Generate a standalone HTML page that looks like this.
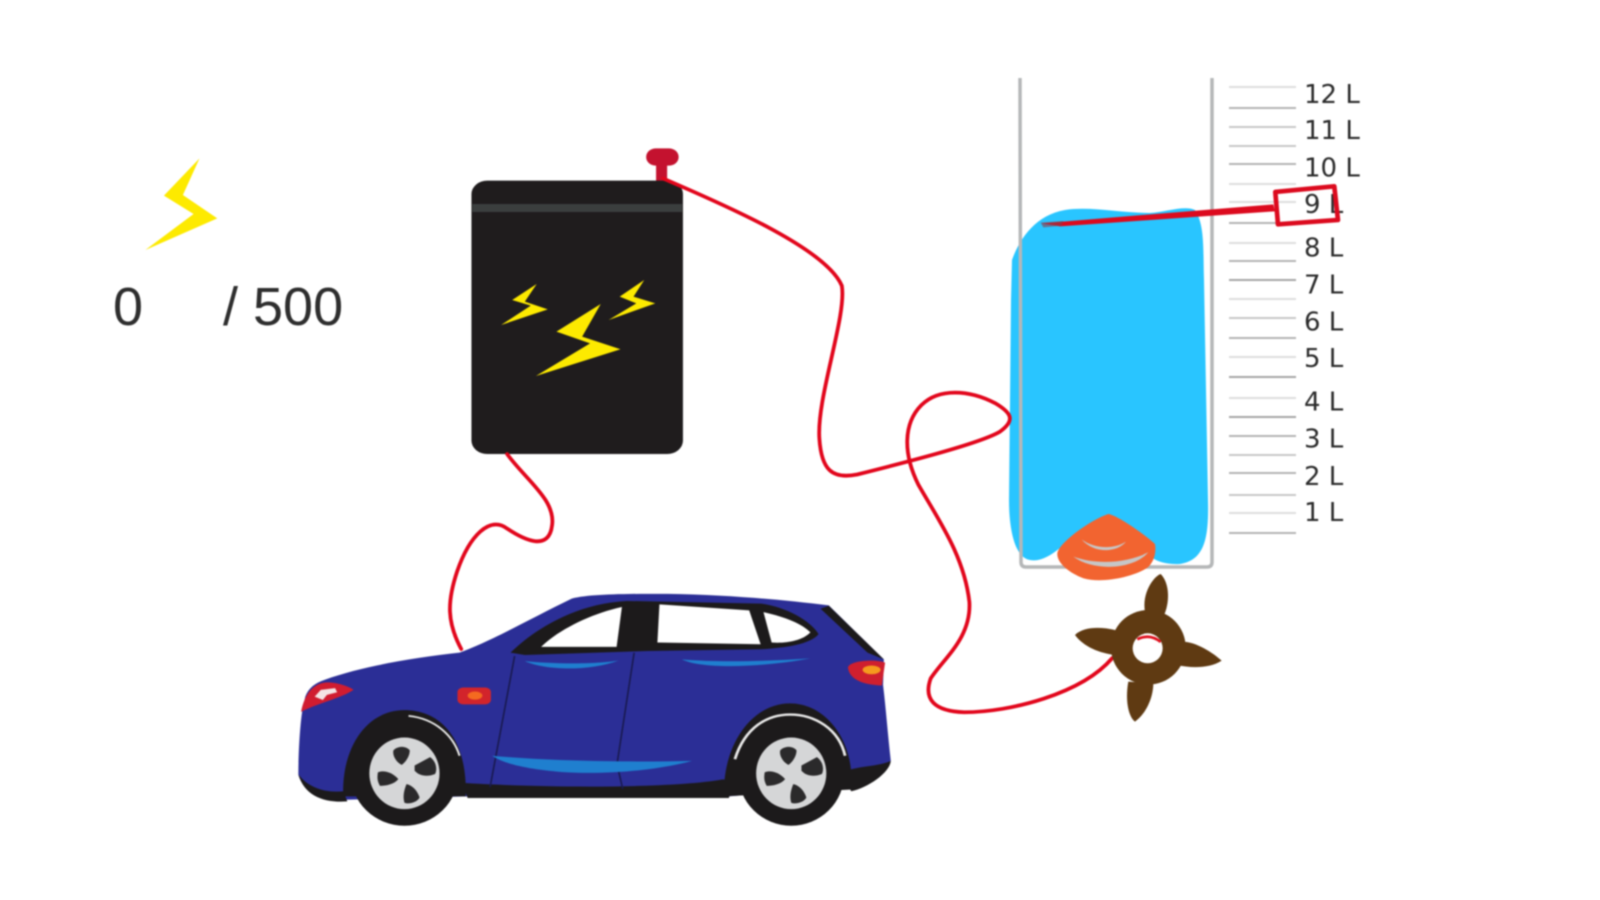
<!DOCTYPE html>
<html lang="en">
<head>
<meta charset="utf-8">
<title>Electric car generator diagram</title>
<style>
html,body{margin:0;padding:0;background:#fff;width:1600px;height:900px;overflow:hidden}
svg{display:block;filter:blur(.85px)}
</style>
</head>
<body>
<svg width="1600" height="900" viewBox="0 0 1600 900" xmlns="http://www.w3.org/2000/svg">
<rect width="1600" height="900" fill="#fff"/>

<!-- lightning + counter -->
<g transform="translate(90,140) scale(.3953,.3333)">
  <path d="M277,55 L187,167 L262,222 L140,330 L322,235 L235,165Z" fill="#fdea00"/>
</g>
<g font-family="'Liberation Sans',sans-serif" font-size="54" fill="#2e2e2e">
  <text x="113" y="325">0</text>
  <text x="223" y="325">/ 500</text>
</g>

<!-- battery -->
<g transform="translate(90,140) scale(.3953,.3333)">
  <rect x="1432" y="60" width="28" height="72" fill="#c4122f"/>
  <rect x="1407" y="25" width="82" height="52" rx="25" fill="#c4122f"/>
  <rect x="965" y="122" width="535" height="820" rx="40" fill="#1f1c1d"/>
  <rect x="967" y="192" width="531" height="24" fill="#3b3e3e"/>
  <path d="M1292,492 L1180,575 L1265,610 L1128,708 L1342,628 L1245,590Z" fill="#fdea00"/>
  <path d="M1130,432 L1068,480 L1115,497 L1040,555 L1158,508 L1100,485Z" fill="#fdea00"/>
  <path d="M1402,420 L1340,470 L1382,490 L1312,540 L1430,490 L1375,470Z" fill="#fdea00"/>
</g>

<!-- water -->
<path d="M1012,260 C1019,240 1035,215 1065,210 C1090,206 1120,213 1150,213 C1165,212 1185,205 1195,210 C1205,225 1203,250 1204,280 L1208,500 C1209,540 1204,560 1180,564 C1160,565 1150,558 1140,548 L1060,548 C1050,556 1040,562 1030,560 C1015,558 1009,530 1009,500 L1011,300Z" fill="#29c5ff"/>
<!-- glass -->
<path d="M1020,78 L1021,562 Q1021,567 1026,567 L1207,567 Q1212,567 1212,562 L1212,78" fill="none" stroke="#b5b7b8" stroke-width="3.5"/>

<!-- wires -->
<g transform="scale(1.0204)" fill="none" stroke="#e2061c" stroke-width="3.7" stroke-linecap="round">
  <path d="M497,445 C515,470 545,490 541,515 C538,540 515,530 497,518 C480,505 460,525 448,560 C438,590 438,610 452,636"/>
  <path d="M650,175 C720,205 810,245 825,280 C830,310 800,390 803,430 C805,460 815,470 840,465 C880,455 960,435 980,423 C995,412 992,405 975,395 C950,382 920,380 903,397 C885,415 885,445 900,475 C920,510 945,545 950,590 C952,625 925,645 912,665 C905,685 915,697 945,698 C990,698 1060,680 1090,645"/>
</g>

<!-- scale lines -->
<g stroke-width="2">
  <path stroke="#dedede" d="M1229,87H1296 M1229,184H1296 M1229,202H1296 M1229,243H1296 M1229,299H1296 M1229,357H1296 M1229,398H1296 M1229,513H1296"/>
  <path stroke="#c8c8c8" d="M1229,127H1296 M1229,146H1296 M1229,318H1296 M1229,455H1296 M1229,495H1296"/>
  <path stroke="#b4b4b4" d="M1229,108H1296 M1229,164H1296 M1229,223H1296 M1229,261H1296 M1229,338H1296 M1229,436H1296 M1229,473H1296 M1229,533H1296"/>
  <path stroke="#a6a6a6" d="M1229,280H1296 M1229,377H1296 M1229,417H1296"/>
</g>
<g font-family="'DejaVu Sans',sans-serif" font-size="26" fill="#2b2b2b">
  <text x="1304" y="103">12 L</text>
  <text x="1304" y="139">11 L</text>
  <text x="1304" y="176.500">10 L</text>
  <text x="1304" y="213">9 L</text>
  <text x="1304" y="256.500">8 L</text>
  <text x="1304" y="293.500">7 L</text>
  <text x="1304" y="330.500">6 L</text>
  <text x="1304" y="367">5 L</text>
  <text x="1304" y="410.500">4 L</text>
  <text x="1304" y="447.500">3 L</text>
  <text x="1304" y="485">2 L</text>
  <text x="1304" y="521">1 L</text>
</g>

<!-- pointer -->
<g transform="translate(1000,60) scale(.3333)">
  <path d="M125,490 L820,433 L825,454 L180,499 Z" fill="#dc0a1e"/>
  <path d="M122,488 L190,483 L185,497 L130,502Z" fill="#8a3a4a" opacity=".6"/>
  <path d="M826,396 L1003,379 L1014,480 L834,493Z" fill="none" stroke="#dc0a1e" stroke-width="14" stroke-linejoin="round"/>
</g>

<!-- orange shell + fan -->
<g transform="translate(1000,340) scale(.3333)">
  <path d="M325,522 C350,525 430,580 465,612 C470,640 460,670 440,685 C390,715 300,730 250,715 C210,700 170,670 172,640 C175,610 270,540 325,522Z" fill="#f26430"/>
  <path d="M245,598 C280,625 340,630 378,605 C350,640 280,640 245,598Z" fill="#c6c6c6"/>
  <path d="M220,650 C290,675 380,670 445,637 C400,690 280,695 220,650Z" fill="#c6c6c6"/>

  <g fill="#5f3a12">
    <path d="M435,815 C425,760 460,710 482,702 C510,730 510,790 490,830Z"/>
    <path d="M545,905 C590,905 640,940 665,962 C630,985 575,985 530,975Z"/>
    <path d="M385,1025 C375,1080 385,1130 405,1145 C440,1120 460,1070 460,1030Z"/>
    <path d="M345,870 C300,860 250,860 225,885 C250,920 300,940 345,945Z"/>
    <circle cx="445" cy="922" r="112"/>
  </g>
  <circle cx="443" cy="925" r="45" fill="#fff"/>
  <path d="M412,898 C440,884 462,890 482,906" fill="none" stroke="#e0101e" stroke-width="8"/>
</g>

<!-- car -->
<g transform="translate(280,580) scale(.408,.338)">
  <path d="M45,575 C45,500 50,420 55,385 L62,345 C70,320 85,305 110,295 C200,255 330,230 440,215 C520,180 620,110 715,55 C760,41 850,41 950,41 C1100,44 1230,58 1345,75 L1480,235 L1478,310 C1485,380 1490,460 1497,535 L1400,610 L1100,640 L460,640 L160,650 L100,640 C70,630 50,600 45,575Z" fill="#2b2e96"/>
  <!-- black lower pieces -->
  <path d="M1400,560 C1430,550 1470,550 1497,535 C1495,570 1440,615 1400,625 C1388,600 1392,580 1400,560Z" fill="#1c1a1b"/>
  <path d="M45,575 C70,615 110,630 155,625 L165,655 C110,660 60,640 45,575Z" fill="#1c1a1b"/>
  <path d="M445,600 C600,613 950,620 1085,590 L1115,595 L1100,645 L460,645Z" fill="#1c1a1b"/>
  <!-- window frame -->
  <path d="M565,215 C620,150 720,70 850,62 L1180,70 C1240,80 1300,120 1320,160 C1300,190 1240,200 1180,205 L900,210 L600,222Z" fill="#1c1a1b"/>
  <path d="M640,198 C680,150 760,100 838,80 L825,198Z" fill="#fff"/>
  <path d="M930,72 L1150,90 L1178,190 L925,185Z" fill="#fff"/>
  <path d="M1185,95 C1240,110 1280,130 1300,155 C1280,180 1240,188 1205,185Z" fill="#fff"/>
  <path d="M1325,85 L1345,76 L1480,235 L1440,215Z" fill="#1c1a1b"/>
  <!-- doors -->
  <path d="M575,225 L515,612 M868,215 L826,545 L840,618" fill="none" stroke="#191a50" stroke-width="4"/>
  <!-- streaks -->
  <g fill="#1f7fcf">
    <path d="M600,240 C680,250 780,248 830,238 C760,270 650,268 600,240Z"/>
    <path d="M985,235 C1080,245 1200,240 1300,232 C1200,255 1040,268 985,235Z"/>
    <path d="M520,520 C650,535 850,540 1010,535 C900,570 770,575 690,568 C610,560 550,545 520,520Z"/>
  </g>
  <!-- lights -->
  <path d="M52,388 C60,340 80,305 115,303 C140,303 170,315 180,325 C150,350 90,365 52,390Z" fill="#d01c30"/>
  <path d="M85,345 L100,325 L135,320 L140,332 L115,340 L105,355Z" fill="#f4e4e4"/>
  <rect x="435" y="318" width="82" height="50" rx="14" fill="#d2242b"/>
  <ellipse cx="478" cy="342" rx="18" ry="12" fill="#f46a20"/>
  <path d="M1392,258 C1400,235 1470,235 1483,245 L1475,312 C1430,310 1395,295 1392,258Z" fill="#cf1f2e"/>
  <ellipse cx="1450" cy="266" rx="22" ry="13" fill="#f59a1e"/>
  <!-- front wheel -->
  <path d="M155,640 C150,500 210,385 305,385 C400,385 460,480 455,640Z" fill="#1c1a1b"/>
  <path d="M315,402 C380,410 425,460 440,520" fill="none" stroke="#e6e6e6" stroke-width="5"/>
  <g transform="translate(0,-6)">
    <ellipse cx="305" cy="578" rx="132" ry="155" fill="#1c1a1b"/>
    <ellipse cx="305" cy="578" rx="86" ry="106" fill="#d5d6d7"/>
    <g fill="#2b2a2b">
      <path d="M278,510 C290,495 310,498 318,510 C318,530 305,548 298,553 C285,545 275,525 278,510Z"/>
      <path d="M330,555 L368,530 C385,545 385,570 380,580 C360,590 340,585 330,570Z"/>
      <path d="M310,610 C330,615 340,640 342,650 C335,665 315,670 305,665 C300,645 305,625 310,610Z"/>
      <path d="M240,575 C255,568 275,575 290,595 C280,610 260,615 245,615 C238,600 238,590 240,575Z"/>
    </g>
  </g>
  <!-- rear wheel -->
  <path d="M1088,640 C1085,480 1160,365 1250,365 C1340,365 1410,480 1400,620Z" fill="#1c1a1b"/>
  <path d="M1115,530 C1140,435 1195,398 1250,398 C1310,398 1370,440 1385,520" fill="none" stroke="#e8e8e8" stroke-width="7"/>
  <g transform="translate(0,-6)">
    <ellipse cx="1253" cy="578" rx="130" ry="155" fill="#1c1a1b"/>
    <ellipse cx="1253" cy="578" rx="86" ry="106" fill="#d5d6d7"/>
    <g fill="#2b2a2b" transform="translate(948,0)">
      <path d="M278,510 C290,495 310,498 318,510 C318,530 305,548 298,553 C285,545 275,525 278,510Z"/>
      <path d="M330,555 L368,530 C385,545 385,570 380,580 C360,590 340,585 330,570Z"/>
      <path d="M310,610 C330,615 340,640 342,650 C335,665 315,670 305,665 C300,645 305,625 310,610Z"/>
      <path d="M240,575 C255,568 275,575 290,595 C280,610 260,615 245,615 C238,600 238,590 240,575Z"/>
    </g>
  </g>
</g>
</svg>
</body>
</html>
